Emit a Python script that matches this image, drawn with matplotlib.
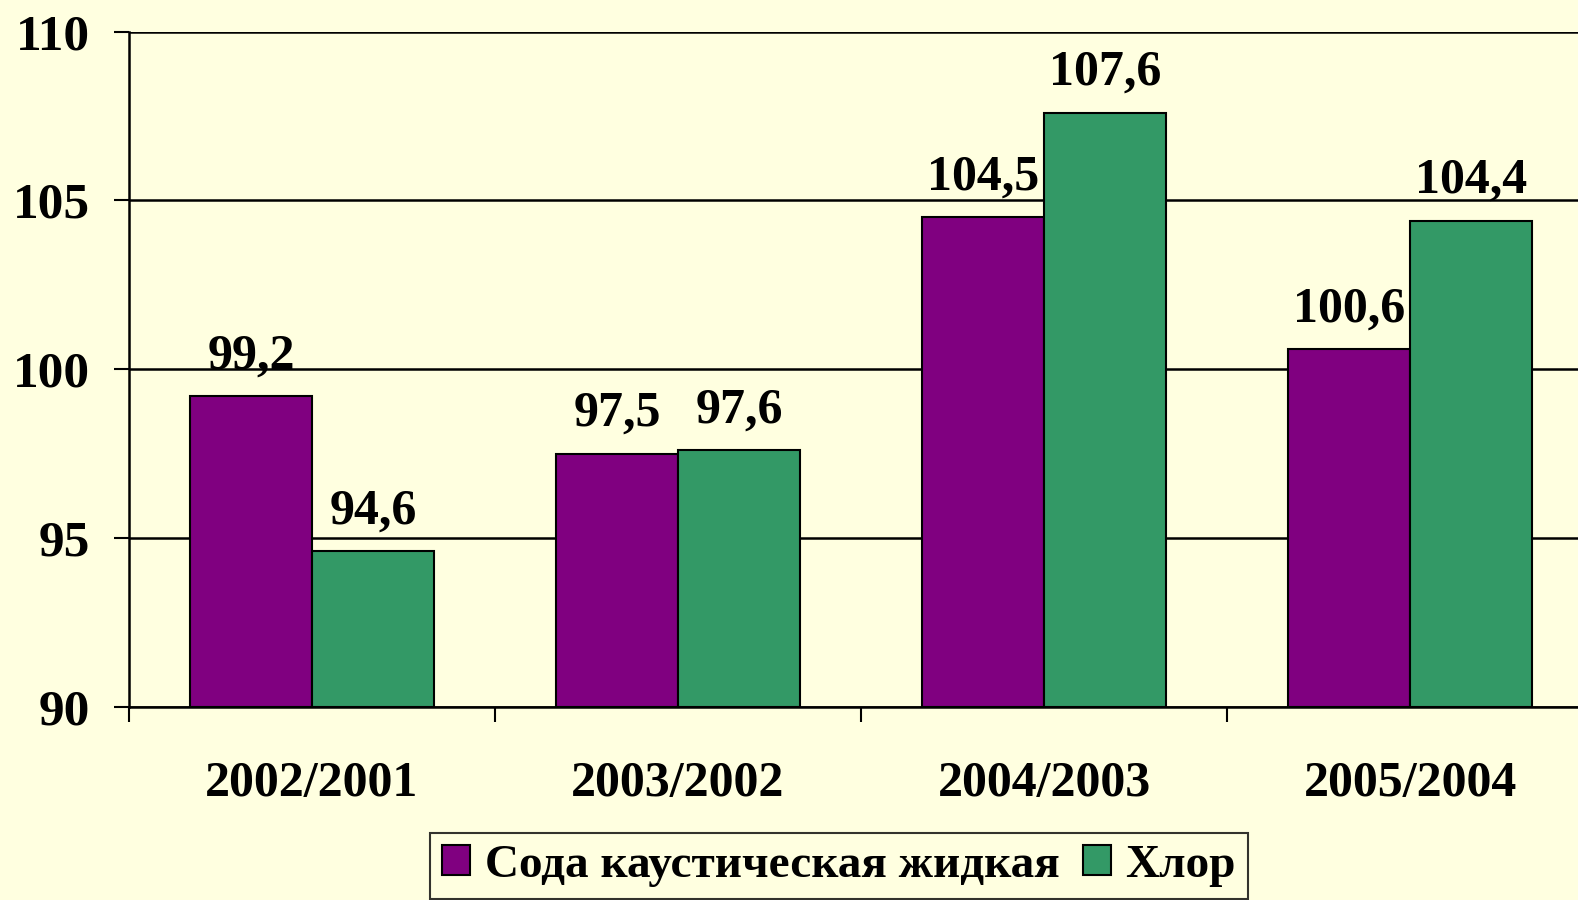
import numpy as np
import matplotlib.pyplot as plt

# data
categories = ["2002/2001", "2003/2002", "2004/2003", "2005/2004"]
soda = [99.2, 97.5, 104.5, 100.6]
chlor = [94.6, 97.6, 107.6, 104.4]
series_names = ["Сода каустическая жидкая", "Хлор"]

bg = "#FFFFE0"
purple = "#800080"
green = "#339966"

plt.rcParams['font.family'] = ['Liberation Serif', 'DejaVu Serif']
plt.rcParams['font.weight'] = 'bold'

fig = plt.figure(figsize=(15.78, 9), dpi=100, facecolor=bg)
# plot area runs past the right edge, as in the original
ax = fig.add_axes([129 / 1578, 0.2148, 1464 / 1578, 0.75])
ax.set_facecolor(bg)

x = np.arange(len(categories))
w = 1 / 3
ax.bar(x - w / 2, np.array(soda) - 90, w, bottom=90, color=purple,
       edgecolor="black", linewidth=1.5, label=series_names[0], zorder=3)
ax.bar(x + w / 2, np.array(chlor) - 90, w, bottom=90, color=green,
       edgecolor="black", linewidth=1.5, label=series_names[1], zorder=3)

# value labels
for xs, vals in [(x - w / 2, soda), (x + w / 2, chlor)]:
    for xi, v in zip(xs, vals):
        ax.annotate(str(v).replace(".", ","), (xi, v), xytext=(0, 12),
                    textcoords="offset points", ha="center", va="bottom",
                    fontsize=36, fontweight="bold")

ax.set_ylim(90, 110)
ax.set_xlim(-0.5, 3.5)
ax.set_yticks([90, 95, 100, 105, 110])
ax.set_yticklabels(["90", "95", "100", "105", "110"])
ax.yaxis.grid(True, color="black", linewidth=1.8, zorder=0)
ax.set_axisbelow(True)

ax.set_xticks(x)
ax.set_xticklabels(categories)
ax.set_xticks(np.arange(-0.5, 4, 1), minor=True)
ax.tick_params(axis="x", which="major", length=0, pad=39, labelsize=36)
ax.tick_params(axis="x", which="minor", length=11, width=1.5, direction="out")
ax.tick_params(axis="y", length=11, width=1.5, pad=17, labelsize=37)

for s in ["top", "right"]:
    ax.spines[s].set_visible(False)
ax.spines["left"].set_linewidth(1.8)
ax.spines["bottom"].set_linewidth(1.8)

leg = fig.legend(loc="upper center", bbox_to_anchor=(839 / 1578, 1 - 833 / 900),
                 ncol=2, fontsize=34, frameon=True, fancybox=False,
                 handlelength=0.6, handleheight=0.6, handletextpad=0.3,
                 columnspacing=0.5, borderpad=0.25, borderaxespad=0)
leg.get_frame().set_edgecolor("black")
leg.get_frame().set_linewidth(1.5)
leg.get_frame().set_facecolor(bg)

fig.savefig("out.png", dpi=100, facecolor=bg)
